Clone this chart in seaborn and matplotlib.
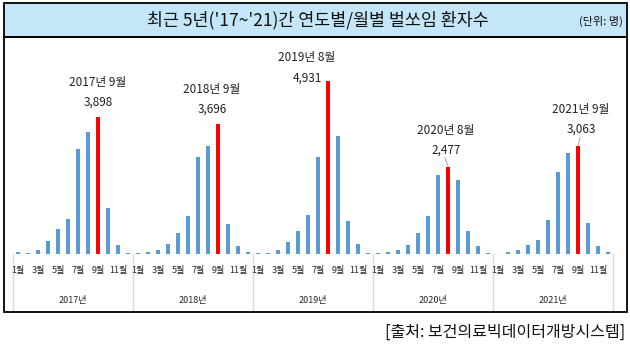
import matplotlib
matplotlib.use("Agg")
import matplotlib.pyplot as plt
from matplotlib.patches import Rectangle
from matplotlib.lines import Line2D
import matplotlib.transforms as mtransforms
import numpy as np
import pandas as pd
import seaborn as sns

# Monthly bee-sting patient counts, 2017-2021
years = ["2017년", "2018년", "2019년", "2020년", "2021년"]
months = ["1월", "2월", "3월", "4월", "5월", "6월", "7월", "8월", "9월", "10월", "11월", "12월"]
cnt_2017 = [48, 19, 124, 361, 703, 998, 3002, 3468, 3898, 1302, 247, 19]
cnt_2018 = [19, 47, 123, 294, 607, 1071, 2758, 3080, 3696, 853, 227, 57]
cnt_2019 = [19, 38, 105, 352, 666, 1123, 2751, 4931, 3360, 933, 286, 19]
cnt_2020 = [19, 48, 124, 248, 610, 1077, 2239, 2477, 2096, 657, 229, 29]
cnt_2021 = [6, 47, 123, 265, 388, 964, 2325, 2873, 3063, 869, 227, 57]
peak_month = [9, 9, 8, 8, 9]
peak_label = ["2017년 9월", "2018년 9월", "2019년 8월", "2020년 8월", "2021년 9월"]

title = "최근 5년('17~'21)간 연도별/월별 벌쏘임 환자수"
unit = "(단위: 명)"
source = "[출처: 보건의료빅데이터개방시스템]"

series = [cnt_2017, cnt_2018, cnt_2019, cnt_2020, cnt_2021]
rows = []
for yi, (yr, vals) in enumerate(zip(years, series)):
    for mi, v in enumerate(vals):
        rows.append({"pos": yi * 12 + mi, "year": yr, "month": months[mi],
                     "환자수": v, "peak": (mi + 1) == peak_month[yi]})
df = pd.DataFrame(rows)

sns.set_theme(style="white")
plt.rcParams["font.family"] = ["Noto Sans CJK KR", "DejaVu Sans"]

W, H = 630, 349
fig = plt.figure(figsize=(W / 100, H / 100), dpi=100)

def fx(px):
    return px / W

def fy(py):
    return 1 - py / H

# plot area: x 13..613 px, baseline at 254 px
ax = fig.add_axes([fx(13), fy(254), fx(600), (254 - 45) / H])
BLUE = "#5b9bd5"
RED = "#ff0000"
sns.barplot(data=df, x="pos", y="환자수", hue="peak", palette={False: BLUE, True: RED},
            dodge=False, width=0.42, legend=False, native_scale=True, saturation=1,
            linewidth=0, edgecolor="none", ax=ax)
ax.set_xlim(-0.5, 59.5)
ax.set_ylim(0, 5950)
for s in ax.spines.values():
    s.set_visible(False)
ax.set_yticks([])
ax.set_xlabel("")
ax.set_ylabel("")
ax.set_xticks([])

GRID = "#d9d9d9"
ax.axhline(0, color=GRID, lw=1.0, zorder=0.5)

trans = mtransforms.blended_transform_factory(ax.transData, fig.transFigure)
# year separators
for b in range(6):
    xb = b * 12 - 0.5
    ax.add_line(Line2D([xb, xb], [fy(254), fy(312)], transform=trans, color=GRID,
                       lw=1.0, clip_on=False))
# month labels (odd months) and year labels
for yi, yr in enumerate(years):
    for mi in range(0, 12, 2):
        ax.text(yi * 12 + mi, fy(271), months[mi], transform=trans, ha="center",
                va="center", fontsize=6.5, color="#262626")
    ax.text(yi * 12 + 5.5, fy(300), yr, transform=trans, ha="center", va="center",
            fontsize=6.5, color="#262626")

# peak annotations
label_dx = [0, -0.6, -2.1, -0.2, 0.3]
for yi in range(5):
    pm = peak_month[yi] - 1
    xp = yi * 12 + pm
    v = series[yi][pm]
    xt = xp + label_dx[yi]
    if yi == 2:
        # value sits beside the bar top, to its left
        ax.text(xt, v + 80, f"{v:,}", ha="center", va="center", fontsize=8.5, color="#222222")
        ax.text(xt, v + 650, peak_label[yi], ha="center", va="center", fontsize=8.5, color="#222222")
    else:
        gap = 300 if yi >= 3 else 250
        ax.text(xt, v + gap, f"{v:,}", ha="center", va="bottom", fontsize=8.5, color="#222222")
        ax.text(xt, v + gap + 560, peak_label[yi], ha="center", va="bottom", fontsize=8.5,
                color="#222222")
        if yi >= 3:
            ax.plot([xp, xt - 0.1], [v + 20, v + 260], color="#a6a6a6", lw=0.7, clip_on=False)

# title band and frame
fig.patches.append(Rectangle((fx(4), fy(37)), fx(623), (37 - 3) / H, transform=fig.transFigure,
                             facecolor="#c5e6f8", edgecolor="black", lw=1.3, zorder=0))
fig.patches.append(Rectangle((fx(4), fy(312)), fx(623), (312 - 37) / H, transform=fig.transFigure,
                             facecolor="none", edgecolor="black", lw=1.3, zorder=0))
fig.text(fx(318), fy(20), title, ha="center", va="center", fontsize=12.5, color="#111111")
fig.text(fx(623), fy(21), unit, ha="right", va="center", fontsize=8, color="#111111")
fig.text(fx(625), fy(332), source, ha="right", va="center", fontsize=11.5, color="#111111")

fig.savefig("out.png", dpi=100)
